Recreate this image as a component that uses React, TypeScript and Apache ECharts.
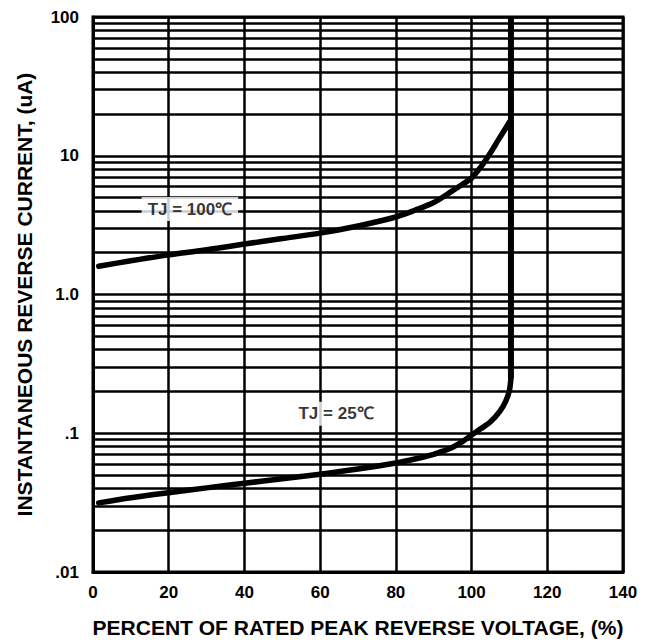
import React, { useEffect, useRef } from "react";
import * as echarts from "echarts";

// 100 °C curve (percent of rated peak reverse voltage, current in uA)
const voltage100 = [1.5, 10, 20, 30, 40, 50, 60, 70, 80, 85, 90, 95, 97.5, 100, 101.5, 103, 105, 107, 109, 110.0];
const current100 = [1.6, 1.75, 1.93, 2.1, 2.31, 2.53, 2.77, 3.12, 3.62, 4.05, 4.6, 5.6, 6.2, 6.9, 7.7, 8.7, 10.5, 12.9, 15.8, 17.5];

// 25 °C curve
const voltage25 = [1.5, 10, 20, 30, 40, 50, 60, 70, 80, 85, 90, 92.5, 95, 97.5, 100, 102.5, 105, 107.5, 109, 110, 110.4];
const current25 = [0.0315, 0.0343, 0.0373, 0.0404, 0.0436, 0.047, 0.0507, 0.0552, 0.0611, 0.0652, 0.0705, 0.0745, 0.0794, 0.0867, 0.097, 0.108, 0.121, 0.1445, 0.17, 0.204, 0.25];

// breakdown: both curves rise straight up at this voltage
const breakdownVoltage = [110.4, 110.4];
const breakdownCurrent = [0.25, 100];

const seriesNames = ["TJ = 100℃", "TJ = 25℃"];
// where each curve's name sits (x %, current uA)
const labelX = [25.6, 64.2];
const labelY = [4.13, 0.138];

const xMin = 0;
const xMax = 140;
const xStep = 20;
const yMin = 0.01;
const yMax = 100;
const yTickText: Record<string, string> = { "2": "100", "1": "10", "0": "1.0", "-1": ".1", "-2": ".01" };
const minorGridValues = [
  0.02, 0.03, 0.04, 0.05, 0.06, 0.07, 0.08, 0.09,
  0.2, 0.3, 0.4, 0.5, 0.6, 0.7, 0.8, 0.9,
  2, 3, 4, 5, 6, 7, 8, 9,
  20, 30, 40, 50, 60, 70, 80, 90,
];

const xTitle = "PERCENT OF RATED PEAK REVERSE VOLTAGE, (%)";
const yTitle = "INSTANTANEOUS REVERSE CURRENT, (uA)";

const zip = (xs: number[], ys: number[]) => xs.map((x, i) => [x, ys[i]]);

export default function App() {
  const ref = useRef<HTMLDivElement>(null);
  useEffect(() => {
    const chart = echarts.init(ref.current!, null, { renderer: "svg" });
    const gridLine = { color: "#000", width: 2.5 };
    const curveStyle = { color: "#000", width: 5.5, cap: "round", join: "round" };
    chart.setOption({
      animation: false,
      backgroundColor: "#fff",
      grid: {
        left: 93,
        right: 32,
        top: 17,
        bottom: 71,
        show: true,
        borderColor: "#000",
        borderWidth: 3,
        backgroundColor: "#fff",
      },
      xAxis: {
        type: "value",
        min: xMin,
        max: xMax,
        interval: xStep,
        axisLine: { show: true, lineStyle: { color: "#000", width: 3 } },
        axisTick: { show: false },
        splitLine: { show: true, lineStyle: gridLine },
        axisLabel: {
          color: "#000",
          fontFamily: "Liberation Sans",
          fontWeight: "bold",
          fontSize: 17,
          margin: 12,
        },
        name: xTitle,
        nameLocation: "middle",
        nameGap: 45,
        nameTextStyle: {
          color: "#000",
          fontFamily: "Liberation Sans",
          fontWeight: "bold",
          fontSize: 21,
        },
      },
      yAxis: {
        type: "log",
        logBase: 10,
        min: yMin,
        max: yMax,
        axisLine: { show: true, lineStyle: { color: "#000", width: 3 } },
        axisTick: { show: false },
        splitLine: { show: true, lineStyle: gridLine },
        minorSplitLine: { show: false },
        axisLabel: {
          color: "#000",
          fontFamily: "Liberation Sans",
          fontWeight: "bold",
          fontSize: 17,
          margin: 14,
          formatter: (v: number) => yTickText[String(Math.round(Math.log10(v)))] ?? "",
        },
        name: yTitle,
        nameLocation: "middle",
        nameGap: 58,
        nameTextStyle: {
          color: "#000",
          fontFamily: "Liberation Sans",
          fontWeight: "bold",
          fontSize: 21,
        },
      },
      series: [
        {
          name: seriesNames[0],
          type: "line",
          data: zip(voltage100, current100),
          showSymbol: false,
          symbol: "none",
          smooth: 0.3,
          lineStyle: curveStyle,
          z: 5,
          silent: true,
        },
        {
          name: seriesNames[1],
          type: "line",
          data: zip(voltage25, current25),
          showSymbol: false,
          symbol: "none",
          smooth: 0.3,
          lineStyle: curveStyle,
          z: 5,
          silent: true,
          markLine: {
            silent: true,
            symbol: ["none", "none"],
            label: { show: false },
            lineStyle: { color: "#000", width: 2.5, type: "solid" },
            data: minorGridValues.map((v) => ({ yAxis: v })),
            z: 1,
          },
        },
        {
          name: "breakdown",
          type: "line",
          data: zip(breakdownVoltage, breakdownCurrent),
          showSymbol: false,
          symbol: "none",
          lineStyle: { color: "#000", width: 6, cap: "butt" },
          z: 5,
          silent: true,
        },
        {
          type: "scatter",
          data: zip(labelX, labelY).map((p, i) => ({ value: p, name: seriesNames[i] })),
          symbolSize: 0,
          z: 10,
          silent: true,
          label: {
            show: true,
            position: "inside",
            formatter: (p: any) => p.name,
            color: "#000",
            fontFamily: "Liberation Sans",
            fontWeight: "bold",
            fontSize: 17,
            backgroundColor: "#fff",
            padding: [4, 6, 3, 6],
          },
        },
      ],
    });
    return () => chart.dispose();
  }, []);
  return (
    <div
      ref={ref}
      style={{ position: "fixed", left: 0, top: 0, width: 655, height: 643 }}
    />
  );
}
